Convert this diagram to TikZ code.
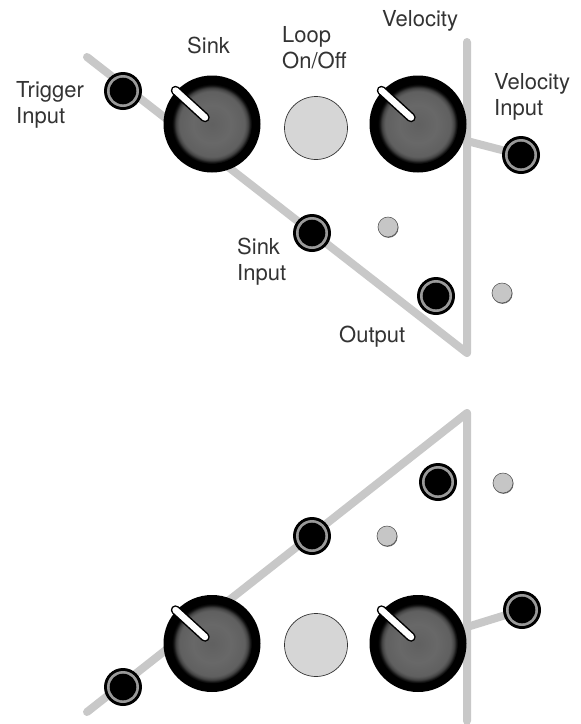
\documentclass[tikz,border=0pt]{standalone}
\usepackage{fontspec}
\setmainfont{TeX Gyre Heros}
\usetikzlibrary{calc,backgrounds}

\definecolor{wire}{HTML}{C8C8C8}
\definecolor{ledgray}{HTML}{C6C6C6}
\definecolor{buttongray}{HTML}{D6D6D6}
\definecolor{knobgray}{HTML}{686868}
\definecolor{ringgray}{HTML}{9A9A9A}
\definecolor{labelgray}{HTML}{333333}

% knob face: flat grey centre fading into the black rim
\pgfdeclareradialshading{knobface}{\pgfpoint{0bp}{0bp}}{%
  color(0bp)=(knobgray!105!white); color(12bp)=(knobgray);
  color(20.5bp)=(knobgray!92!black); color(22.5bp)=(knobgray!65!black);
  color(24bp)=(knobgray!20!black);
  color(25bp)=(black); color(50bp)=(black)}

\tikzset{
  wireline/.style={line width=8pt, draw=wire, line cap=round, line join=round},
  jack/.style={circle, fill=black, minimum size=38pt, inner sep=0pt,
    path picture={
      \fill[ringgray] (path picture bounding box.center) circle[radius=16pt];
      \fill[black] (path picture bounding box.center) circle[radius=13.3pt];}},
  knob/.style={circle, fill=black, minimum size=97pt, inner sep=0pt},
  button/.style={circle, fill=buttongray, draw=black!80, line width=0.7pt,
    minimum size=63pt, inner sep=0pt},
  led/.style={circle, fill=ledgray, draw=black!65, line width=0.6pt,
    minimum size=20pt, inner sep=0pt,
    preaction={fill=black!60, transform canvas={shift={(0.5pt,-0.8pt)}}}},
  lbl/.style={font=\fontsize{22}{26}\selectfont, text=labelgray, inner sep=0pt,
    align=left, anchor=base west},
}

% face and pointer of a knob node
\newcommand\knobdetail[1]{%
  \shade[shading=knobface] (#1) circle[radius=40pt];
  \draw[line width=9.5pt, line cap=round, black]
    ($(#1)+(-7,-6.5)$) -- ($(#1)+(-36.5,-33.5)$);
  \draw[line width=6.5pt, line cap=round, white]
    ($(#1)+(-7,-6.5)$) -- ($(#1)+(-36.5,-33.5)$);}

\begin{document}
\begin{tikzpicture}[x=1pt, y=-1pt]
\useasboundingbox (0,0) rectangle (581,724);

% ---------- upper panel ----------
\coordinate (tdstart) at (87,57);
\coordinate (tcorner) at (467,353);
\coordinate (ttop) at (467,42);
\coordinate (tbranch) at (467,141);

\node[jack] (ttrig) at (123,91) {};
\node[knob] (tsink) at (212,124) {};
\node[button] (tloop) at (316,128) {};
\node[knob] (tvel) at (418,124) {};
\node[jack] (tvelin) at (521,155) {};
\node[jack] (tsinkin) at (312,233) {};
\node[led] (tled1) at (388,227) {};
\node[jack] (tout) at (436,296) {};
\node[led] (tled2) at (502,293) {};
\knobdetail{tsink}
\knobdetail{tvel}

% two-line labels are placed by the baseline of their last line
\node[lbl] (ltrig) at (16,123) {Trigger\\Input};
\node[lbl] (lsink) at (187,53) {Sink};
\node[lbl] (lloop) at (282,68) {Loop\\On/Off};
\node[lbl] (lvel) at (382,26) {Velocity};
\node[lbl] (lvelin) at (494,115) {Velocity\\Input};
\node[lbl] (lsinkin) at (237,280) {Sink\\Input};
\node[lbl] (lout) at (339,342) {Output};

% ---------- lower panel ----------
\coordinate (bdstart) at (87,712);
\coordinate (bapex) at (467,413);
\coordinate (bbottom) at (467,721);
\coordinate (bbranch) at (467,627);

\node[jack] (btrig) at (123,687) {};
\node[knob] (bsink) at (212,643.5) {};
\node[button] (bloop) at (316,645) {};
\node[knob] (bvel) at (418,643.5) {};
\node[jack] (bvelin) at (522,610) {};
\node[jack] (bsinkin) at (312,536) {};
\node[led] (bled1) at (387,536) {};
\node[jack] (bout) at (438,482) {};
\node[led] (bled2) at (503,483) {};
\knobdetail{bsink}
\knobdetail{bvel}

% ---------- wiring, behind the controls ----------
\begin{scope}[on background layer]
  \draw[wireline] (tdstart) -- (tcorner) -- (ttop);
  \draw[wireline] (tbranch) -- (tvelin);
  \draw[wireline] (bdstart) -- (bapex) -- (bbottom);
  \draw[wireline] (bbranch) -- (bvelin);
\end{scope}
\end{tikzpicture}
\end{document}
